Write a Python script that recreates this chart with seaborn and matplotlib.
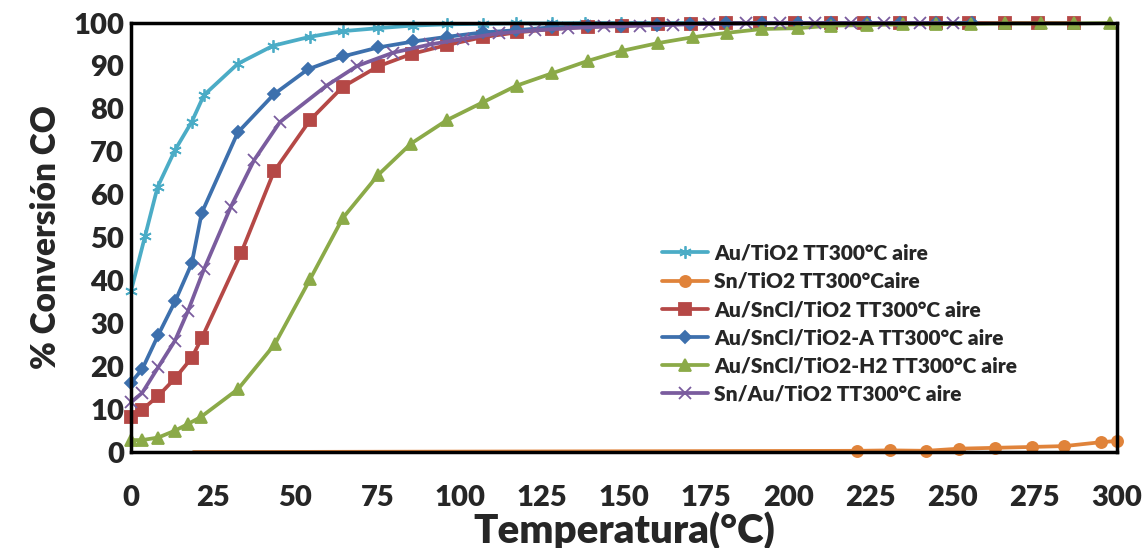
import matplotlib
matplotlib.use("Agg")
import matplotlib.pyplot as plt
import seaborn as sns
import numpy as np

# ---- data ----
t_au = [0, 4.3, 8.1, 13.4, 18.5, 22.2, 32.5, 43.2, 54.5, 64.4, 75.2, 85.7, 96.3, 107, 117, 128, 138, 149, 160, 170, 181, 191, 202]
v_au = [37.5, 50.4, 61.8, 70.4, 77.0, 83.2, 90.5, 94.7, 96.8, 98.1, 98.8, 99.4, 99.7, 99.8, 99.9, 99.9, 100, 100, 100, 100, 100, 100, 100]

t_sn = [19, 221, 231, 242, 252, 263, 274, 284, 295, 300]
v_sn = [0.0, 0.3, 0.4, 0.3, 0.8, 1.0, 1.2, 1.4, 2.3, 2.6]

t_ausncl = [0, 3.4, 8.3, 13.4, 18.5, 21.5, 33.5, 43.5, 54.5, 64.4, 75.2, 85.4, 96.3, 107, 117.3, 128.2, 139, 149.3, 160.2, 170.3, 181, 191.4, 202, 213, 223, 234, 245, 255, 266, 276, 287]
v_ausncl = [8.1, 9.9, 13.1, 17.2, 22.0, 26.5, 46.4, 65.4, 77.4, 85.1, 89.9, 92.8, 94.9, 96.7, 97.8, 98.6, 99.1, 99.3, 99.7, 99.8, 100, 100, 100, 100, 100, 100, 100, 100, 100, 100, 100]

t_ausncl_a = [0, 3.4, 8.3, 13.4, 18.5, 21.5, 32.5, 43.5, 53.8, 64.4, 75.2, 85.9, 96.3, 107, 117, 128, 139, 149, 160, 170, 181, 192, 203, 213, 224, 234, 245, 256]
v_ausncl_a = [16.2, 19.3, 27.3, 35.1, 44.0, 55.7, 74.5, 83.4, 89.2, 92.2, 94.3, 95.7, 96.8, 97.8, 98.3, 99.0, 99.2, 99.4, 99.6, 99.8, 99.9, 100, 100, 100, 100, 100, 100, 100]

t_ausncl_h2 = [0, 3.4, 8.3, 13.4, 17.2, 21.3, 32.6, 43.8, 54.5, 64.4, 75.2, 85.2, 96.2, 107, 117.3, 128.2, 139.1, 149.3, 160.2, 171, 181.2, 192, 203, 213, 224, 235, 245, 255.5, 266, 277, 287, 298]
v_ausncl_h2 = [2.8, 2.8, 3.4, 5.0, 6.5, 8.2, 14.7, 25.2, 40.3, 54.5, 64.6, 71.9, 77.4, 81.5, 85.4, 88.3, 91.2, 93.5, 95.3, 96.7, 97.7, 98.6, 98.8, 99.4, 99.5, 99.7, 99.7, 99.8, 99.9, 99.9, 99.9, 100]

t_snau = [0, 3.4, 8.3, 13.4, 17.4, 22.2, 30.4, 37.5, 45.3, 59.5, 68.8, 79.8, 91, 101, 112, 123, 133, 144, 155, 165, 176, 187, 197.5, 208, 219, 229, 240, 250]
v_snau = [11.6, 13.8, 19.8, 26.0, 33.0, 42.6, 57.2, 68.1, 76.9, 85.4, 90.0, 93.1, 95.0, 96.3, 97.6, 98.3, 98.8, 99.2, 99.4, 99.6, 99.8, 99.9, 100, 100, 100, 100, 100, 100]

labels = ["Au/TiO2 TT300°C aire", "Sn/TiO2 TT300°Caire", "Au/SnCl/TiO2 TT300°C aire",
          "Au/SnCl/TiO2-A TT300°C aire", "Au/SnCl/TiO2-H2 TT300°C aire", "Sn/Au/TiO2 TT300°C aire"]
x_ticks = list(range(0, 301, 25))
y_ticks = list(range(0, 101, 10))

sns.set_theme(style="white")
plt.rcParams['font.family'] = ['Lato', 'DejaVu Sans']

fig = plt.figure(figsize=(11.46, 5.48), dpi=100)
ax = fig.add_axes([0.1143, 0.175, 0.8604, 0.783])

series = [
    (t_au, v_au, "#4BACC6", (6, 2, 0), 9, {}),
    (t_sn, v_sn, "#E0833A", "o", 8, {"markevery": list(range(1, len(t_sn)))}),
    (t_ausncl, v_ausncl, "#B54846", "s", 8, {}),
    (t_ausncl_a, v_ausncl_a, "#3D70AD", "D", 6.5, {}),
    (t_ausncl_h2, v_ausncl_h2, "#8BAA48", "^", 8, {}),
    (t_snau, v_snau, "#7A5C9E", "x", 8, {}),
]
for (t, v, c, m, ms, kw), lab in zip(series, labels):
    sns.lineplot(x=t, y=v, ax=ax, color=c, marker=m, markersize=ms, linewidth=2.7,
                 markeredgecolor=c, markeredgewidth=1.3, label=lab, sort=False,
                 estimator=None, clip_on=False, **kw)

ax.set_xlim(0, 300)
ax.set_ylim(0, 100)
ax.set_xticks(x_ticks)
ax.set_yticks(y_ticks)
ax.tick_params(axis='y', labelsize=21, length=0, pad=5)
ax.tick_params(axis='x', labelsize=21, length=0, pad=24)
for lbl in ax.get_xticklabels() + ax.get_yticklabels():
    lbl.set_fontweight('heavy')
ax.set_xlabel("Temperatura(°C)", fontsize=29, fontweight='heavy', labelpad=0)
ax.set_ylabel("% Conversión CO", fontsize=24, fontweight='heavy', labelpad=8)
for s in ax.spines.values():
    s.set_color('black')
    s.set_linewidth(2.5)
ax.grid(False)

leg = ax.legend(loc='upper left', bbox_to_anchor=(0.530, 0.505), frameon=False,
                prop={'weight': 'heavy', 'size': 15}, handlelength=2.2,
                labelspacing=0.44, handletextpad=0.3, borderaxespad=0)

fig.savefig("out.png", dpi=100)
